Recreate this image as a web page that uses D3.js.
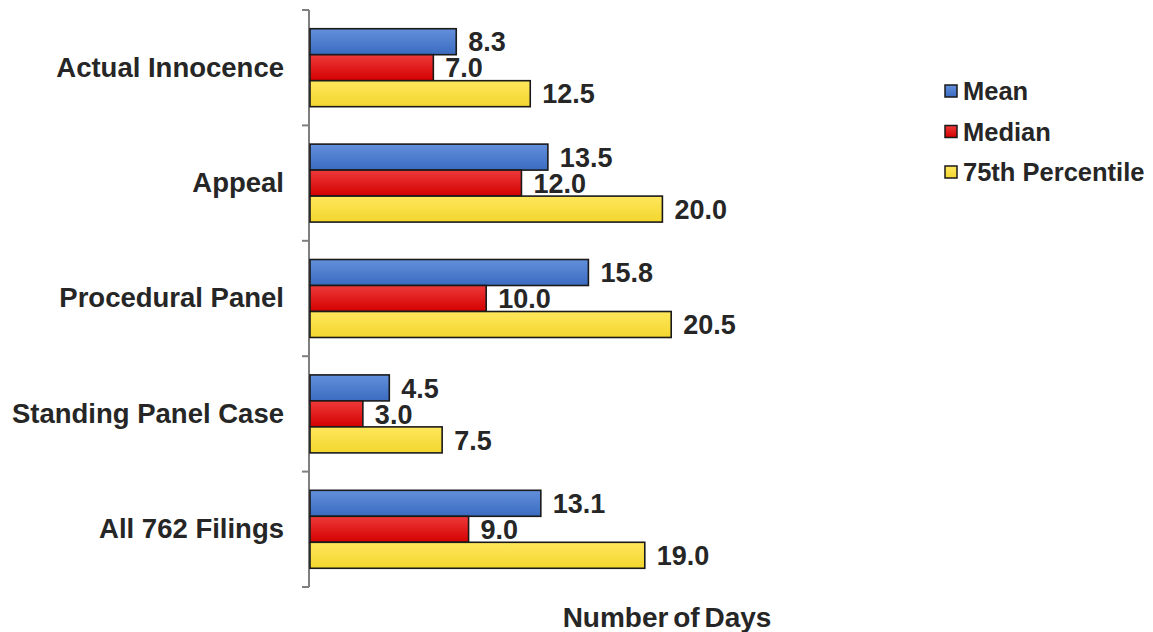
<!DOCTYPE html>
<html>
<head>
<meta charset="utf-8">
<script src="https://cdn.jsdelivr.net/npm/d3@7"></script>
<style>
  html, body { margin: 0; padding: 0; background: #ffffff; }
  svg { display: block; font-family: "Liberation Sans", Arial, sans-serif; }
</style>
</head>
<body>
<svg id="chart" width="1153" height="632"></svg>
<script>
// Filing categories, top to bottom
const categories = ["Actual Innocence", "Appeal", "Procedural Panel", "Standing Panel Case", "All 762 Filings"];
// Days per category for each statistic
const meanDays   = [8.3, 13.5, 15.8, 4.5, 13.1];
const medianDays = [7.0, 12.0, 10.0, 3.0, 9.0];
const p75Days    = [12.5, 20.0, 20.5, 7.5, 19.0];
const seriesNames = ["Mean", "Median", "75th Percentile"];
const xTitle = "Number of Days";

const seriesValues = [meanDays, medianDays, p75Days];
const colors = [
  { top: "#6390dc", bottom: "#3a6bc0" },
  { top: "#ee3a3a", bottom: "#d40000" },
  { top: "#ffe75c", bottom: "#f3d62e" }
];
const textColor = "#262626";

const svg = d3.select("#chart");
const defs = svg.append("defs");
colors.forEach((c, i) => {
  const g = defs.append("linearGradient")
    .attr("id", "grad" + i).attr("x1", 0).attr("y1", 0).attr("x2", 0).attr("y2", 1);
  g.append("stop").attr("offset", "0%").attr("stop-color", c.top);
  g.append("stop").attr("offset", "100%").attr("stop-color", c.bottom);
});

const x = d3.scaleLinear().domain([0, 25]).range([310, 310 + 25 * 17.62]);
const y = d3.scaleBand().domain(categories).range([10, 587]).paddingInner(0).paddingOuter(0);
const inner = d3.scaleBand().domain(seriesNames).range([0, y.bandwidth()]).paddingInner(0).paddingOuter(0.72);

// Category axis with ticks on band boundaries
const axisG = svg.append("g");
axisG.append("line")
  .attr("x1", x(0) - 1).attr("x2", x(0) - 1)
  .attr("y1", y.range()[0]).attr("y2", y.range()[1])
  .attr("stroke", "#7f7f7f").attr("stroke-width", 2);
const boundaries = categories.map(c => y(c)).concat([y.range()[1]]);
axisG.selectAll("line.tick").data(boundaries).join("line")
  .attr("class", "tick")
  .attr("x1", x(0) - 8).attr("x2", x(0) - 1)
  .attr("y1", d => d).attr("y2", d => d)
  .attr("stroke", "#7f7f7f").attr("stroke-width", 2);

axisG.selectAll("text.cat").data(categories).join("text")
  .attr("class", "cat")
  .attr("x", 284)
  .attr("y", d => y(d) + y.bandwidth() / 2)
  .attr("dy", "0.32em")
  .attr("text-anchor", "end")
  .attr("font-size", 27.5)
  .attr("font-weight", "bold")
  .attr("fill", textColor)
  .text(d => d);

// Bars
const groups = svg.append("g").selectAll("g").data(categories).join("g")
  .attr("transform", d => `translate(0,${y(d)})`);

seriesNames.forEach((s, si) => {
  groups.append("rect")
    .attr("x", x(0))
    .attr("y", inner(s))
    .attr("width", (d, i) => x(seriesValues[si][i]) - x(0))
    .attr("height", inner.bandwidth())
    .attr("fill", `url(#grad${si})`)
    .attr("stroke", "#1a1a1a")
    .attr("stroke-width", 1.6);
});
seriesNames.forEach((s, si) => {
  groups.append("text")
    .attr("x", (d, i) => x(seriesValues[si][i]) + 12)
    .attr("y", inner(s) + inner.bandwidth() / 2)
    .attr("dy", "0.36em")
    .attr("font-size", 27)
    .attr("font-weight", "bold")
    .attr("fill", textColor)
    .text((d, i) => seriesValues[si][i].toFixed(1));
});

// Legend
const legend = svg.append("g").attr("transform", "translate(945,91)");
const li = legend.selectAll("g").data(seriesNames).join("g")
  .attr("transform", (d, i) => `translate(0,${i * 40.5})`);
li.append("rect")
  .attr("x", 0).attr("y", -6).attr("width", 12).attr("height", 12)
  .attr("fill", (d, i) => `url(#grad${i})`)
  .attr("stroke", "#1a1a1a").attr("stroke-width", 1.5);
li.append("text")
  .attr("x", 18).attr("y", 0).attr("dy", "0.36em")
  .attr("font-size", 25.5)
  .attr("font-weight", "bold")
  .attr("fill", textColor)
  .text(d => d);

// Axis title
svg.append("text")
  .attr("x", 667).attr("y", 617).attr("dy", "0.36em")
  .attr("text-anchor", "middle")
  .attr("font-size", 28)
  .attr("font-weight", "bold")
  .attr("word-spacing", -3)
  .attr("fill", textColor)
  .text(xTitle);
</script>
</body>
</html>
